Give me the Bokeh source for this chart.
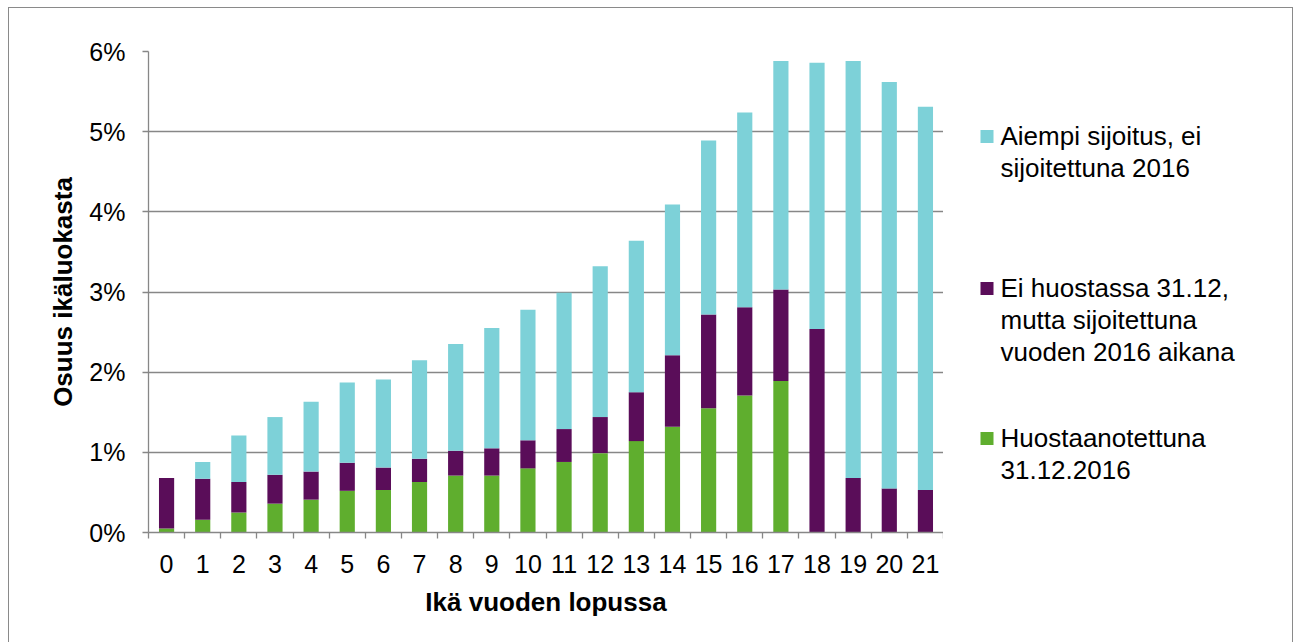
from bokeh.plotting import figure
from bokeh.layouts import row
from bokeh.models import ColumnDataSource, FixedTicker, Range1d
from bokeh.core.properties import value
from bokeh.embed import file_html
from bokeh.resources import INLINE

# ---------------- data ----------------
ages = list(range(22))
age_labels = [str(a) for a in ages]
huostaanotettuna = [0.05, 0.16, 0.25, 0.36, 0.41, 0.52, 0.53, 0.63, 0.71, 0.71, 0.80,
                    0.88, 0.99, 1.14, 1.32, 1.55, 1.71, 1.89, 0.00, 0.00, 0.00, 0.00]
ei_huostassa = [0.63, 0.51, 0.38, 0.36, 0.35, 0.35, 0.28, 0.29, 0.31, 0.34, 0.35,
                0.41, 0.45, 0.61, 0.89, 1.17, 1.10, 1.14, 2.54, 0.68, 0.55, 0.53]
aiempi = [0.00, 0.21, 0.58, 0.72, 0.87, 1.00, 1.10, 1.23, 1.33, 1.50, 1.63,
          1.70, 1.88, 1.89, 1.88, 2.17, 2.43, 2.85, 3.32, 5.20, 5.07, 4.78]
y_ticks = [0, 1, 2, 3, 4, 5, 6]
y_tick_labels = ["0%", "1%", "2%", "3%", "4%", "5%", "6%"]
series_keys = ["huostaanotettuna", "ei_huostassa", "aiempi"]
series_colors = ["#5fae2e", "#5a0d59", "#7dd1d8"]
legend_lines = [
    ["Aiempi sijoitus, ei", "sijoitettuna 2016"],
    ["Ei huostassa 31.12,", "mutta sijoitettuna", "vuoden 2016 aikana"],
    ["Huostaanotettuna", "31.12.2016"],
]
legend_colors = ["#7dd1d8", "#5a0d59", "#5fae2e"]
x_title = "Ikä vuoden lopussa"
y_title = "Osuus ikäluokasta"

# ---------------- layout ----------------
FONT = "Liberation Sans"
GRID = "#878787"
H = 634
MAIN_W = 934
LEG_W = 349
ML, MT = 139, 43
FRAME_H = 481
MB = H - MT - FRAME_H
PAGE_TOP = 8  # page y of the top of the figures
FRAME_TOP_PAGE = PAGE_TOP + MT
FRAME_BOTTOM_PAGE = FRAME_TOP_PAGE + FRAME_H

src = ColumnDataSource(dict(x=ages, huostaanotettuna=huostaanotettuna,
                            ei_huostassa=ei_huostassa, aiempi=aiempi))

p = figure(width=MAIN_W, height=H, output_backend="svg", toolbar_location=None,
           x_range=Range1d(-0.5, ages[-1] + 0.5), y_range=Range1d(0, 6),
           min_border_left=ML, min_border_right=0, min_border_top=MT, min_border_bottom=MB,
           background_fill_color="white", border_fill_color="white")
p.outline_line_color = None

p.vbar_stack(series_keys, x="x", width=0.42, color=series_colors, line_color=None, source=src)

# y axis
p.yaxis.ticker = FixedTicker(ticks=y_ticks)
p.yaxis.major_label_overrides = {t: l for t, l in zip(y_ticks, y_tick_labels)}
p.yaxis.major_tick_out = 6
p.yaxis.major_tick_in = 0
p.yaxis.minor_tick_out = 0
p.yaxis.minor_tick_in = 0
p.yaxis.major_label_standoff = 17
p.yaxis.axis_label = y_title
p.yaxis.axis_label_standoff = 8

# x axis: labels at category centres, tick marks at category boundaries
p.xaxis.ticker = FixedTicker(ticks=ages, minor_ticks=[a - 0.5 for a in ages] + [ages[-1] + 0.5])
p.xaxis.major_label_overrides = {a: l for a, l in zip(ages, age_labels)}
p.xaxis.major_tick_out = 0
p.xaxis.major_tick_in = 0
p.xaxis.minor_tick_out = 6
p.xaxis.minor_tick_in = 0
p.xaxis.major_label_standoff = 16
p.xaxis.axis_label = x_title
p.xaxis.axis_label_standoff = 11

for ax in (p.xaxis, p.yaxis):
    ax.axis_line_color = GRID
    ax.axis_line_width = 1.3
    ax.major_tick_line_color = GRID
    ax.major_tick_line_width = 1.3
    ax.minor_tick_line_color = GRID
    ax.minor_tick_line_width = 1.3
    ax.major_label_text_font = FONT
    ax.major_label_text_font_size = "25px"
    ax.major_label_text_color = "black"
    ax.axis_label_text_font = FONT
    ax.axis_label_text_font_size = "26px"
    ax.axis_label_text_font_style = "bold"
    ax.axis_label_text_color = "black"

p.xgrid.visible = False
p.ygrid.ticker = FixedTicker(ticks=y_ticks)
p.ygrid.grid_line_color = GRID
p.ygrid.grid_line_width = 1.3

# ---------------- legend panel (page-pixel coordinates, y downwards) ----------------
# the row aligns the legend's frame with the main frame, so map page y directly
leg = figure(width=LEG_W, height=H, output_backend="svg", toolbar_location=None,
             x_range=Range1d(0, LEG_W), y_range=Range1d(FRAME_BOTTOM_PAGE, FRAME_TOP_PAGE),
             min_border_left=0, min_border_right=0, min_border_top=MT, min_border_bottom=MB,
             background_fill_color="white", border_fill_color="white")
leg.outline_line_color = None
leg.axis.visible = False
leg.grid.visible = False

first_line_centres = [135.5, 287.5, 437.5]  # page y
line_gap = 32
for lines, col, cy in zip(legend_lines, legend_colors, first_line_centres):
    leg.rect(x=[43.5], y=[cy + 0.5], width=13, height=13, fill_color=col, line_color=None)
    leg.text(x=[57] * len(lines), y=[cy + i * line_gap for i in range(len(lines))], text=lines,
             text_align="left", text_baseline="middle",
             text_font=value(FONT), text_font_size="26px", text_color="black")

layout = row(p, leg, spacing=0,
             styles={"margin-left": "7.5px", "margin-top": "6.5px",
                     "border-left": "1.5px solid #8a8a8a",
                     "border-top": "1.5px solid #8a8a8a",
                     "border-right": "1.5px solid #8a8a8a"})

open("out.html", "w").write(file_html(layout, INLINE))
